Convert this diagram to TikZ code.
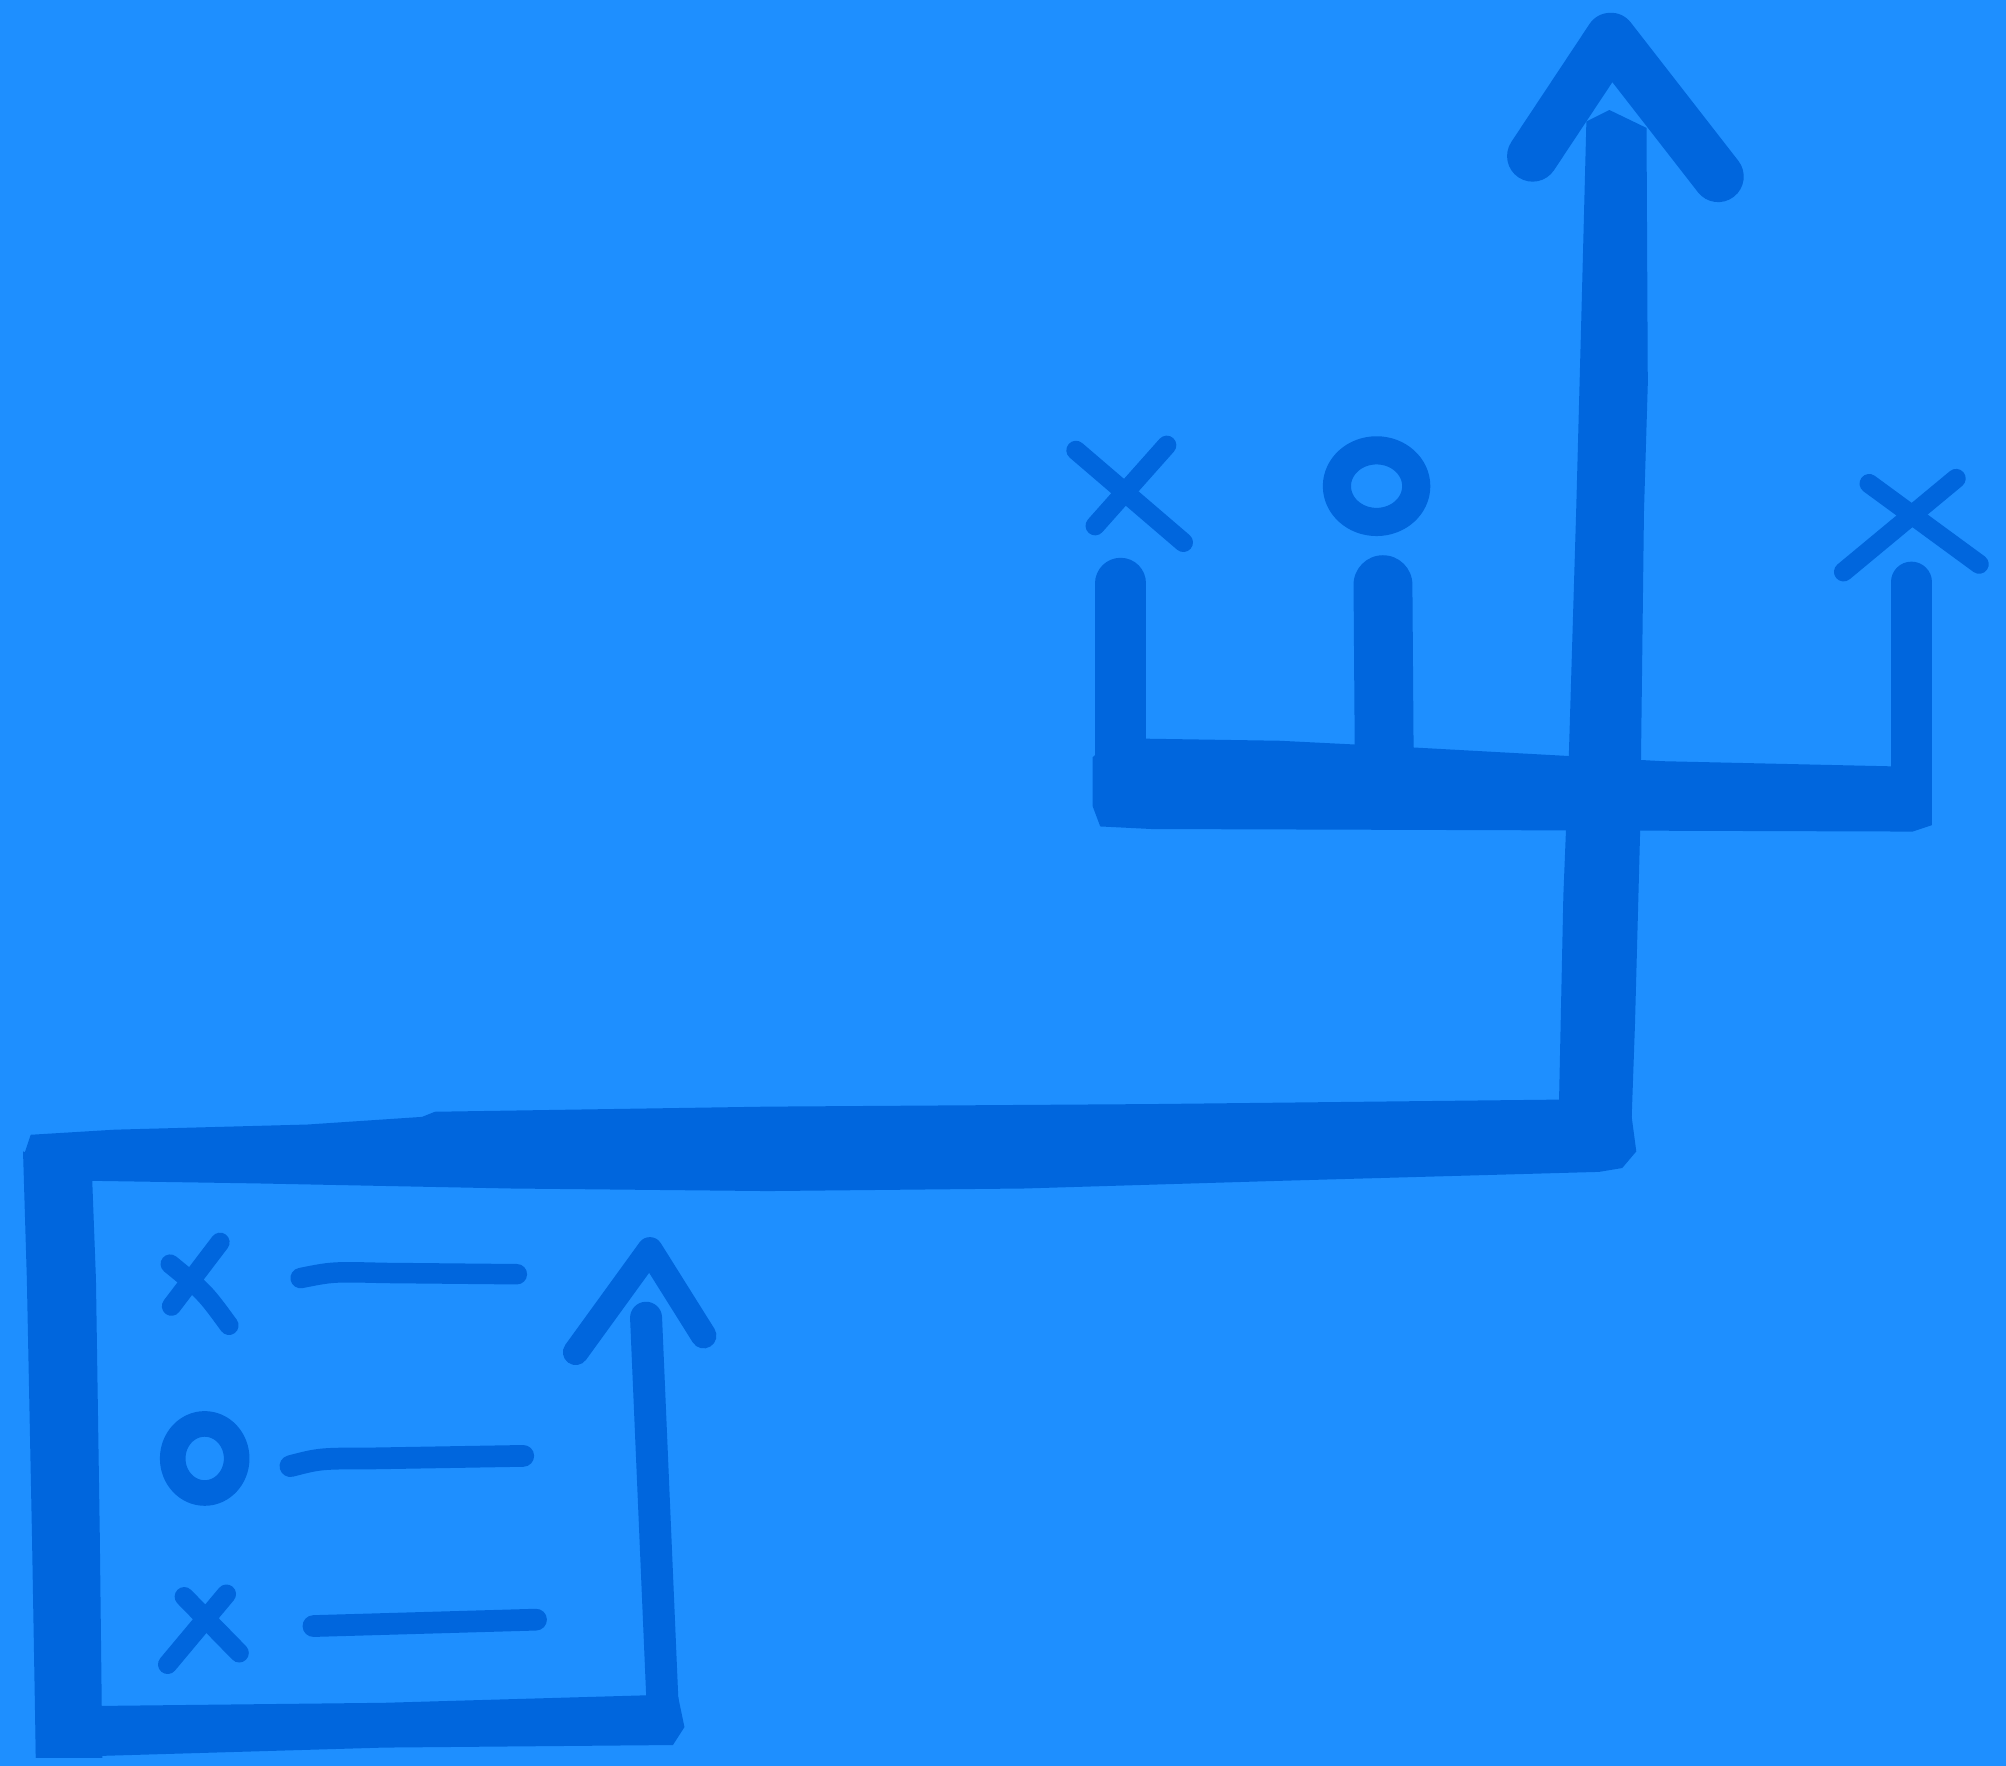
\documentclass[tikz,border=0pt]{standalone}
\definecolor{bg}{HTML}{1E8FFF}
\definecolor{ink}{HTML}{0066DD}
\tikzset{
  brush/.style={draw=ink, line cap=round, line join=round},
  blob/.style={fill=ink},
}
\begin{document}
\begin{tikzpicture}[x=0.5pt, y=-0.5pt]
\fill[bg] (0,0) rectangle (1568,1380);
% box left edge
\fill[blob] (18,900) -- (21,1000) -- (25,1200) -- (28,1374) -- (80,1374) -- (78,1200) -- (75,1000) -- (72,920) -- cycle;
% box bottom edge
\fill[blob] (28,1334) -- (300,1331) -- (510,1325) -- (530,1326) -- (535,1350) -- (526,1364) -- (300,1366) -- (28,1374) -- cycle;
% big horizontal
\fill[blob] (18,905) -- (24,887) -- (90,883) -- (240,879) -- (330,873) -- (340,869) -- (600,865) -- (900,863) -- (1265,859)
  -- (1275,870) -- (1279,900) -- (1268,913) -- (1250,916) -- (1000,923) -- (800,929) -- (600,931) -- (400,929)
  -- (200,925) -- (72,923) -- (40,926) -- cycle;
% main vertical
\fill[blob] (1218,890) -- (1222,700) -- (1226,600) -- (1232,400) -- (1236,250) -- (1240,95) -- (1258,86) -- (1287,100)
  -- (1288,300) -- (1285,400) -- (1282,650) -- (1278,800) -- (1275,885) -- cycle;
% main arrowhead
\draw[brush, line width=20pt] (1198,122) -- (1259,30) -- (1343,138);
% bracket horizontal
\fill[blob] (854,592) -- (870,577) -- (1000,579) -- (1100,584) -- (1300,595) -- (1478,599) -- (1510,604)
  -- (1510,645) -- (1495,650) -- (1200,649) -- (900,648) -- (860,646) -- (854,630) -- cycle;
% bracket verticals
\draw[brush, line width=20pt] (876,456) -- (876,610);
\draw[brush, line width=23pt] (1081,457) -- (1082,595);
\draw[brush, line width=16pt] (1494,455) -- (1494,620);
% top symbols
\draw[brush, line width=7.5pt] (841,352) -- (925,424);
\draw[brush, line width=7.5pt] (912,348) -- (856,411);
\draw[brush, line width=11pt] (1076,380) ellipse [x radius=15.5pt, y radius=14pt];
\draw[brush, line width=7.5pt] (1529,374) -- (1441,447);
\draw[brush, line width=7.5pt] (1461,378) -- (1547,441);
% box arrow
\draw[brush, line width=12.5pt] (518,1335) -- (505,1030);
\draw[brush, line width=10pt] (450,1057) -- (508,977) -- (550,1044);
% legend
\draw[brush, line width=7.5pt] (172,971) -- (134,1021);
\draw[brush, line width=7.5pt] (133,988) .. controls (160,1010) .. (179,1036);
\draw[brush, line width=8pt] (235,999) .. controls (260,994) .. (300,995) -- (404,996);
\draw[brush, line width=10pt] (160,1140) ellipse [x radius=12.5pt, y radius=13.5pt];
\draw[brush, line width=8.5pt] (227,1146) .. controls (250,1140) .. (290,1140) -- (409,1138);
\draw[brush, line width=7.5pt] (144,1248) -- (187,1292);
\draw[brush, line width=7.5pt] (177,1246) -- (131,1301);
\draw[brush, line width=8.5pt] (245,1271) -- (419,1266);
\end{tikzpicture}
\end{document}
